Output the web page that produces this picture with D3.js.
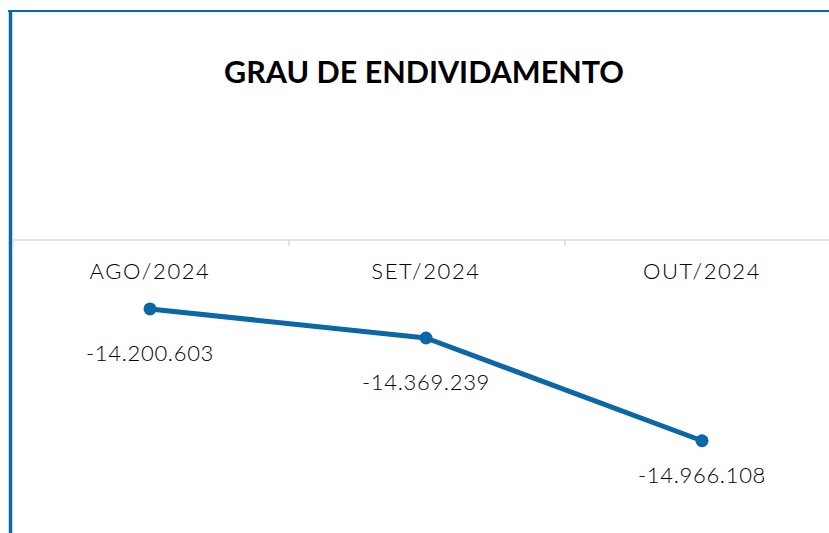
<!DOCTYPE html>
<html>
<head>
<meta charset="utf-8">
<script src="https://cdn.jsdelivr.net/npm/d3@7"></script>
<style>
  body { margin: 0; background: #fff; }
  text { font-family: Lato, "Open Sans", sans-serif; fill: #000; }
</style>
</head>
<body>
<div id="chart"></div>
<script>
const months = ["AGO/2024", "SET/2024", "OUT/2024"];
const debt = [-14200603, -14369239, -14966108];
const title = "GRAU DE ENDIVIDAMENTO";

const width = 829;
const height = 533;
const blue = "#0b67a5";
const plot = { left: 12, right: 840, top: 240, bottom: 512 };

const fmt = v => (v < 0 ? "-" : "") + d3.format(",")(Math.abs(v)).replace(/,/g, ".");

const svg = d3.select("#chart").append("svg")
  .attr("width", width)
  .attr("height", height);

// frame borders (top + left)
svg.append("line")
  .attr("x1", 8).attr("x2", width).attr("y1", 11).attr("y2", 11)
  .attr("stroke", blue).attr("stroke-width", 2);
svg.append("line")
  .attr("x1", 10.5).attr("x2", 10.5).attr("y1", 10).attr("y2", height)
  .attr("stroke", blue).attr("stroke-width", 3.5);

svg.append("text")
  .attr("x", 424)
  .attr("y", 83)
  .attr("text-anchor", "middle")
  .style("font-size", "30.5px")
  .style("font-weight", "bold")
  .text(title);

const x = d3.scaleBand()
  .domain(months)
  .range([plot.left, plot.right]);

const y = d3.scaleLinear()
  .domain([-15380000, -13800000])
  .range([plot.bottom, plot.top]);

// category axis along the top of the plot
const axis = svg.append("g")
  .attr("transform", `translate(0,${plot.top})`)
  .call(d3.axisBottom(x).tickSize(0).tickPadding(0));
axis.select(".domain").remove();
axis.selectAll(".tick text").remove();

axis.append("line")
  .attr("x1", plot.left + 1).attr("x2", width)
  .attr("stroke", "#d9d9d9").attr("stroke-width", 1.5);

axis.selectAll(".sep")
  .data(months)
  .enter()
  .append("line")
  .attr("class", "sep")
  .attr("x1", d => x(d) + 1).attr("x2", d => x(d) + 1)
  .attr("y1", 0).attr("y2", 6)
  .attr("stroke", "#d9d9d9").attr("stroke-width", 1.5);

svg.selectAll(".cat")
  .data(months)
  .enter()
  .append("text")
  .attr("class", "cat")
  .attr("x", d => x(d) + x.bandwidth() / 2)
  .attr("y", 279)
  .attr("text-anchor", "middle")
  .style("font-size", "22px")
  .style("font-weight", 300)
  .style("letter-spacing", "1.6px")
  .text(d => d);

const pts = months.map((m, i) => ({ m, v: debt[i] }));
const cx = d => x(d.m) + x.bandwidth() / 2;

svg.append("path")
  .datum(pts)
  .attr("fill", "none")
  .attr("stroke", blue)
  .attr("stroke-width", 5)
  .attr("stroke-linejoin", "round")
  .attr("d", d3.line().x(cx).y(d => y(d.v)));

svg.selectAll(".dot")
  .data(pts)
  .enter()
  .append("circle")
  .attr("class", "dot")
  .attr("cx", cx)
  .attr("cy", d => y(d.v))
  .attr("r", 6.5)
  .attr("fill", blue);

// data labels below points, kept inside the plot area
svg.selectAll(".lbl")
  .data(pts)
  .enter()
  .append("text")
  .attr("class", "lbl")
  .attr("x", cx)
  .attr("y", d => Math.min(y(d.v) + 52, 483))
  .attr("text-anchor", "middle")
  .style("font-size", "22px")
  .style("font-weight", 300)
  .style("letter-spacing", "0.7px")
  .text(d => fmt(d.v));
</script>
</body>
</html>
